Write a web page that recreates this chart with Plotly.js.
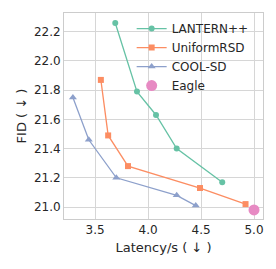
<!DOCTYPE html>
<html>
<head>
<meta charset="utf-8">
<script src="https://cdn.plot.ly/plotly-3.0.1.min.js"></script>
<style>html,body{margin:0;padding:0;background:#fff;}#chart{width:276px;height:269px;}</style>
</head>
<body>
<div id="chart"></div>
<script>
const lanternX = [3.69, 3.895, 4.075, 4.27, 4.70];
const lanternY = [22.26, 21.79, 21.63, 21.40, 21.17];
const uniformX = [3.554, 3.623, 3.81, 4.49, 4.92];
const uniformY = [21.87, 21.49, 21.28, 21.13, 21.02];
const coolX = [3.29, 3.44, 3.70, 4.27, 4.45];
const coolY = [21.75, 21.46, 21.20, 21.08, 21.01];
const eagleX = [5.0];
const eagleY = [20.98];
const seriesNames = ['LANTERN++', 'UniformRSD', 'COOL-SD', 'Eagle'];

const font = 'DejaVu Sans, sans-serif';
const traces = [
  {x: lanternX, y: lanternY, name: seriesNames[0], mode: 'lines+markers',
   line: {color: '#66c2a5', width: 1.3}, marker: {symbol: 'circle', size: 6, color: '#66c2a5'}},
  {x: uniformX, y: uniformY, name: seriesNames[1], mode: 'lines+markers',
   line: {color: '#fc8d62', width: 1.3}, marker: {symbol: 'square', size: 6, color: '#fc8d62'}},
  {x: coolX, y: coolY, name: seriesNames[2], mode: 'lines+markers',
   line: {color: '#8da0cb', width: 1.3}, marker: {symbol: 'triangle-up', size: 7, color: '#8da0cb'}},
  {x: eagleX, y: eagleY, name: seriesNames[3], mode: 'markers',
   marker: {symbol: 'circle', size: 11, color: '#e78ac3'}}
];
const layout = {
  width: 276, height: 269,
  margin: {l: 64, r: 13, t: 13, b: 50},
  paper_bgcolor: '#fff', plot_bgcolor: '#fff',
  font: {family: font, color: '#262626', size: 12},
  showlegend: true,
  legend: {x: 0.34, y: 0.995, xanchor: 'left', yanchor: 'top',
    bgcolor: 'rgba(255,255,255,0)', borderwidth: 0,
    font: {family: font, size: 12, color: '#262626'}, tracegroupgap: 0},
  xaxis: {range: [3.206, 5.085], tickvals: [3.5, 4.0, 4.5, 5.0], ticktext: ['3.5','4.0','4.5','5.0'],
    showgrid: true, gridcolor: '#d6d6d6', gridwidth: 1, zeroline: false,
    showline: true, mirror: true, linecolor: '#cccccc', linewidth: 1,
    ticks: '', tickfont: {size: 12}, title: {text: 'Latency/s ( ↓ )', font: {size: 13}, standoff: 6}},
  yaxis: {range: [20.918, 22.328], tickvals: [21.0, 21.2, 21.4, 21.6, 21.8, 22.0, 22.2],
    ticktext: ['21.0','21.2','21.4','21.6','21.8','22.0','22.2'],
    showgrid: true, gridcolor: '#d6d6d6', gridwidth: 1, zeroline: false,
    showline: true, mirror: true, linecolor: '#cccccc', linewidth: 1,
    ticks: '', tickfont: {size: 12}, title: {text: 'FID ( ↓ )', font: {size: 13}, standoff: 4}}
};
Plotly.newPlot('chart', traces, layout, {displayModeBar: false, staticPlot: true});
</script>
</body>
</html>
